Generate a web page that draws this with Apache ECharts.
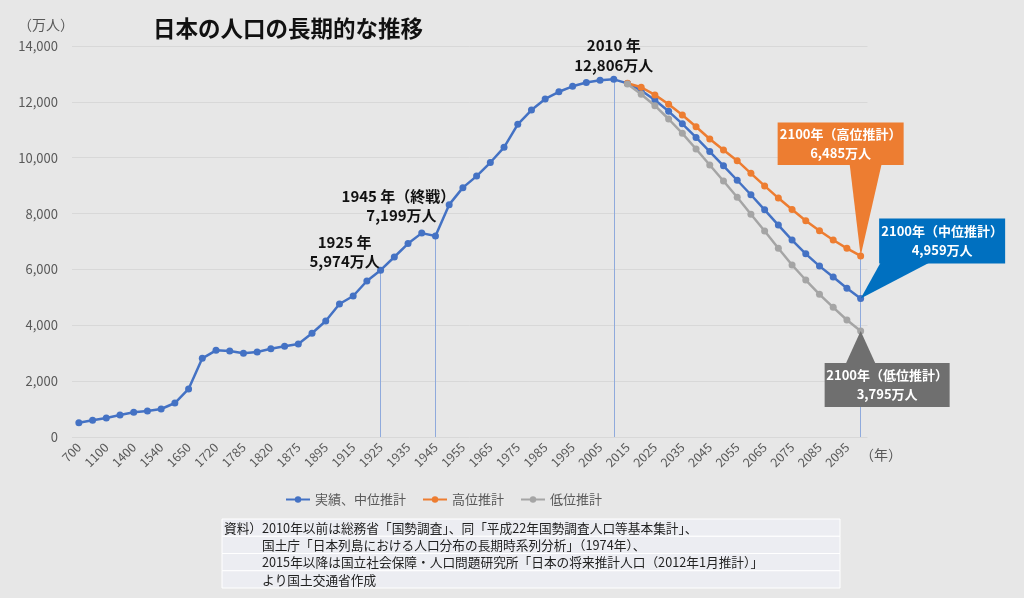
<!DOCTYPE html>
<html>
<head>
<meta charset="utf-8">
<script src="https://cdn.jsdelivr.net/npm/echarts@6/dist/echarts.min.js"></script>
<style>
html,body{margin:0;padding:0;background:#E7E7E7;}
#c{width:1024px;height:598px;}
</style>
</head>
<body>
<div id="c"></div>
<script>
// ---- data (万人) ----
const categories = [
  '700','900','1100','1200','1400','1500','1540','1600','1650','1700','1720','1750',
  '1785','1800','1820','1850','1875','1885','1895','1905','1915','1920','1925',
  '1930','1935','1940','1945','1950','1955','1960','1965','1970','1975','1980',
  '1985','1990','1995','2000','2005','2010','2015','2020','2025','2030','2035',
  '2040','2045','2050','2055','2060','2065','2070','2075','2080','2085','2090',
  '2095','2100'
];
const actualMid = [
  512, 598, 680, 788, 884, 931, 1003, 1217, 1719, 2818, 3104, 3079,
  2997, 3043, 3161, 3250, 3330, 3713, 4153, 4762, 5048, 5585, 5974,
  6445, 6925, 7300, 7199, 8320, 8928, 9342, 9828, 10372, 11194, 11706,
  12105, 12361, 12557, 12693, 12777, 12806, 12660, 12410, 12066, 11662, 11212,
  10728, 10221, 9708, 9193, 8674, 8135, 7589, 7051, 6557, 6119, 5727,
  5327, 4959
];
const highProj = [
  12666, 12523, 12250, 11912, 11528, 11109, 10669, 10276, 9893, 9441,
  8990, 8555, 8145, 7744, 7386, 7053, 6756, 6485
];
const lowProj = [
  12639, 12270, 11862, 11386, 10874, 10311, 9739, 9166, 8582, 7973,
  7376, 6756, 6158, 5621, 5109, 4644, 4189, 3795
];
const projStart = '2015';
const yTicks = {min: 0, max: 14000, interval: 2000};
const markYears = ['1925', '1945', '2010'];
const seriesNames = ['実績、中位推計', '高位推計', '低位推計'];
const sourceHead = '資料）';
const sourceLines = [
  '2010年以前は総務省「国勢調査」、同「平成22年国勢調査人口等基本集計」、',
  '国土庁「日本列島における人口分布の長期時系列分析」（1974年）、',
  '2015年以降は国立社会保障・人口問題研究所「日本の将来推計人口（2012年1月推計）」',
  'より国土交通省作成'
];

const FONT = '"Noto Sans CJK JP", "Noto Sans", sans-serif';
const startIdx = categories.indexOf(projStart);
const pad = (arr) => categories.map((c, i) => i < startIdx ? null : arr[i - startIdx]);
const highFull = pad(highProj);
const lowFull = pad(lowProj);
const lastIdx = categories.length - 1;

const fmt = (v) => v.toLocaleString('en-US');

const chart = echarts.init(document.getElementById('c'));

const vlines = markYears.map(y => {
  const i = categories.indexOf(y);
  return [{coord: [y, actualMid[i]]}, {coord: [y, 0]}];
});
vlines.push([{coord: [categories[lastIdx], highFull[lastIdx]]}, {coord: [categories[lastIdx], 0]}]);

chart.setOption({
  animation: false,
  backgroundColor: '#E7E7E7',
  textStyle: {fontFamily: FONT},
  grid: {left: 72, right: 156.5, top: 46, bottom: 161, containLabel: false},
  legend: {
    data: seriesNames,
    left: 280, top: 488,
    itemWidth: 24, itemHeight: 8, itemGap: 16,
    textStyle: {fontSize: 13, color: '#595959', fontFamily: FONT}
  },
  xAxis: {
    type: 'category',
    data: categories,
    boundaryGap: true,
    axisLine: {show: false},
    axisTick: {show: false},
    axisLabel: {interval: 1, rotate: 45, fontSize: 12.5, color: '#595959', margin: 8, fontFamily: FONT}
  },
  yAxis: {
    type: 'value',
    min: yTicks.min, max: yTicks.max, interval: yTicks.interval,
    axisLine: {show: false},
    axisTick: {show: false},
    axisLabel: {fontSize: 13, color: '#595959', margin: 14, formatter: (v) => fmt(v), fontFamily: FONT},
    splitLine: {lineStyle: {color: '#D8D8D8', width: 1}}
  },
  series: [
    {
      name: seriesNames[0], type: 'line', data: actualMid,
      color: '#4472C4', symbol: 'circle', symbolSize: 7,
      lineStyle: {width: 2.5}, z: 3,
      markLine: {
        silent: true, symbol: ['none', 'none'], label: {show: false},
        lineStyle: {color: '#8FAADC', width: 1, type: 'solid'},
        data: vlines, z: 1
      }
    },
    {
      name: seriesNames[1], type: 'line', data: highFull,
      color: '#ED7D31', symbol: 'circle', symbolSize: 7,
      lineStyle: {width: 2.5}, z: 4
    },
    {
      name: seriesNames[2], type: 'line', data: lowFull,
      color: '#A5A5A5', symbol: 'circle', symbolSize: 7,
      lineStyle: {width: 2.5}, z: 5
    }
  ]
});

const px = (cat, val) => chart.convertToPixel({xAxisIndex: 0, yAxisIndex: 0}, [cat, val]);

const g = [];
function txt(x, y, s, opt) {
  g.push(Object.assign({
    type: 'text', x: x, y: y, z: 20,
    style: Object.assign({text: s, fontFamily: FONT, fontSize: 15, fontWeight: 'bold', fill: '#111',
      align: 'center', verticalAlign: 'middle'}, opt || {})
  }));
}

// title and units
txt(153, 28, '日本の人口の長期的な推移', {fontSize: 22.5, align: 'left'});
txt(18, 25, '（万人）', {fontSize: 14, fontWeight: 'normal', fill: '#595959', align: 'left'});
txt(860, 455, '（年）', {fontSize: 14, fontWeight: 'normal', fill: '#595959', align: 'left'});

// point annotations
const i1925 = categories.indexOf('1925'), i1945 = categories.indexOf('1945'), i2010 = categories.indexOf('2010');
const p2010 = px('2010', actualMid[i2010]);
txt(p2010[0], p2010[1] - 34, '2010 年');
txt(p2010[0], p2010[1] - 14, fmt(actualMid[i2010]) + '万人');
const p1925 = px('1925', actualMid[i1925]);
txt(p1925[0] - 36, p1925[1] - 28, '1925 年');
txt(p1925[0] - 36, p1925[1] - 9, fmt(actualMid[i1925]) + '万人');
const p1945 = px('1945', actualMid[i1945]);
txt(p1945[0] - 37, p1945[1] - 40, '1945 年（終戦）');
txt(p1945[0] - 34, p1945[1] - 21, fmt(actualMid[i1945]) + '万人');

// callouts at 2100
function callout(tip, rect, base, color, l1, l2) {
  g.push({type: 'polygon', z: 15, shape: {points: [[base[0], base[1]], [base[2], base[3]], tip]}, style: {fill: color}});
  g.push({type: 'rect', z: 15, shape: {x: rect[0], y: rect[1], width: rect[2], height: rect[3]}, style: {fill: color}});
  const cx = rect[0] + rect[2] / 2, cy = rect[1] + rect[3] / 2;
  txt(cx, cy - 9.5, l1, {fill: '#fff', fontSize: 13});
  txt(cx, cy + 9.5, l2, {fill: '#fff', fontSize: 13});
}
const last = categories[lastIdx];
const tH = px(last, highFull[lastIdx]);
callout(tH, [tH[0] - 83, tH[1] - 133.5, 126, 42.5], [tH[0] - 11, tH[1] - 92, tH[0] + 21, tH[1] - 92],
  '#ED7D31', '2100年（高位推計）', fmt(highFull[lastIdx]) + '万人');
const tM = px(last, actualMid[lastIdx]);
callout(tM, [tM[0] + 18.5, tM[1] - 80, 126, 45], [tM[0] + 20, tM[1] - 36, tM[0] + 69, tM[1] - 36],
  '#0070C0', '2100年（中位推計）', fmt(actualMid[lastIdx]) + '万人');
const tL = px(last, lowFull[lastIdx]);
callout(tL, [tL[0] - 36, tL[1] + 32, 125, 44], [tL[0] - 15, tL[1] + 33, tL[0] + 15, tL[1] + 33],
  '#6F6F6F', '2100年（低位推計）', fmt(lowFull[lastIdx]) + '万人');

// source box
const bx = 222, by = 519, bw = 618, rh = 17.25;
sourceLines.forEach((s, k) => {
  g.push({type: 'rect', z: 10, shape: {x: bx, y: by + k * rh, width: bw, height: rh},
    style: {fill: '#ECEDF2', stroke: '#FFFFFF', lineWidth: 1}});
  txt(262, by + k * rh + rh / 2 + 0.5, s,
    {fontSize: 12.7, fontWeight: 'normal', fill: '#222', align: 'left'});
});
txt(224, by + rh / 2 + 0.5, sourceHead, {fontSize: 12.7, fontWeight: 'normal', fill: '#222', align: 'left'});

chart.setOption({graphic: g});
</script>
</body>
</html>
